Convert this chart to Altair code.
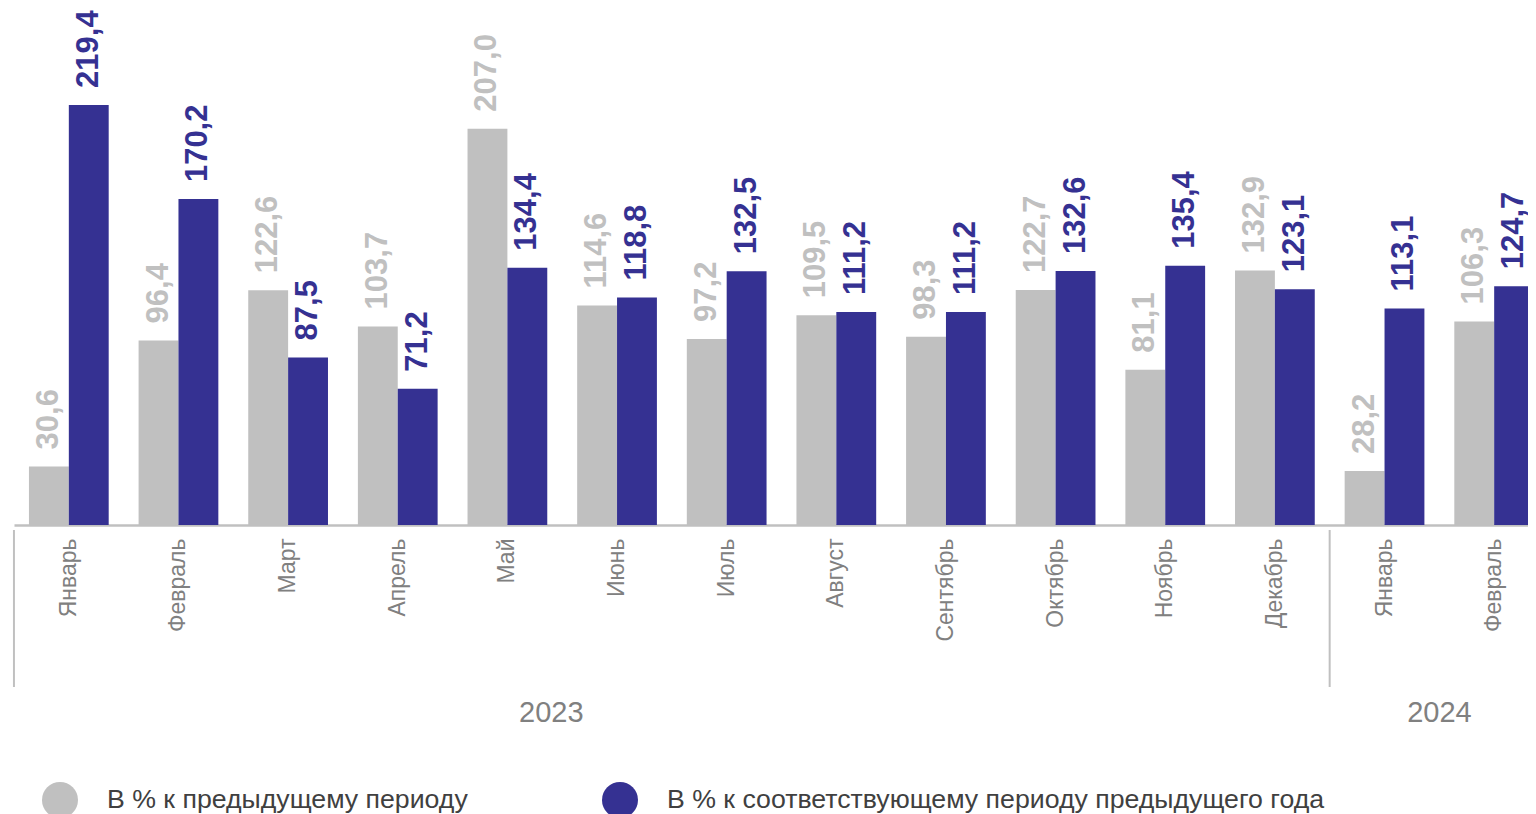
import altair as alt
import pandas as pd

months = ["Январь", "Февраль", "Март", "Апрель", "Май", "Июнь", "Июль", "Август",
          "Сентябрь", "Октябрь", "Ноябрь", "Декабрь", "Январь", "Февраль"]
years = [2023] * 12 + [2024] * 2
prev_period = [30.6, 96.4, 122.6, 103.7, 207.0, 114.6, 97.2, 109.5, 98.3, 122.7, 81.1, 132.9, 28.2, 106.3]
prev_year = [219.4, 170.2, 87.5, 71.2, 134.4, 118.8, 132.5, 111.2, 111.2, 132.6, 135.4, 123.1, 113.1, 124.7]
series_names = ["В % к предыдущему периоду", "В % к соответствующему периоду предыдущего года"]
series_colors = ["#c0c0c0", "#353192"]
year_labels = ["2023", "2024"]
year_anchor_months = ["Май|2023", "Январь|2024"]
year_dx = [4, 15]
separator_keys = ["Январь|2023", "Январь|2024"]

keys = [f"{m}|{y}" for m, y in zip(months, years)]
rows = []
for k, a, b in zip(keys, prev_period, prev_year):
    rows.append({"key": k, "series": series_names[0], "value": a, "label": f"{a:.1f}".replace(".", ",")})
    rows.append({"key": k, "series": series_names[1], "value": b, "label": f"{b:.1f}".replace(".", ",")})
df = pd.DataFrame(rows)

FONT = "Liberation Sans"
xscale = alt.Scale(range=[0, 1535], paddingInner=0.2727, paddingOuter=0.1364)
axis_spec = alt.Axis(title=None, labelExpr="split(datum.label, '|')[0]", labelAngle=-90,
                     labelFont=FONT, labelFontSize=23, labelColor="#808080", labelPadding=13,
                     ticks=False, domainColor="#c0c0c0", domainWidth=2.5, grid=False,
                     labelOverlap=False)


def xenc(**kw):
    return alt.X("key:N", sort=keys, scale=xscale, axis=axis_spec, **kw)


xoff = alt.XOffset("series:N", sort=series_names, scale=alt.Scale(paddingInner=0, paddingOuter=0))
y_enc = alt.Y("value:Q", scale=alt.Scale(domain=[0, 270]), axis=None)

bars = alt.Chart(df).mark_bar().encode(
    x=xenc(),
    xOffset=xoff,
    y=y_enc,
    color=alt.Color(
        "series:N", sort=series_names,
        scale=alt.Scale(domain=series_names, range=series_colors),
        legend=alt.Legend(title=None, orient="none", legendX=28, legendY=774, direction="horizontal",
                          symbolType="circle", symbolSize=1296, symbolStrokeWidth=0, symbolOpacity=1,
                          labelFont=FONT, labelFontSize=26.7, labelColor="#404040", labelOffset=29,
                          columnPadding=134, padding=0, labelLimit=1000),
    ),
)

text_layers = []
for name, col in zip(series_names, series_colors):
    text_layers.append(
        alt.Chart(df).transform_filter(alt.datum.series == name).mark_text(
            angle=270, align="left", baseline="middle", dx=17, font=FONT,
            fontWeight="bold", fontSize=31, color=col,
        ).encode(x=xenc(), xOffset=xoff, y=y_enc, text="label:N")
    )

sep_df = pd.DataFrame({"key": separator_keys})
separators = alt.Chart(sep_df).mark_rule(color="#c0c0c0", strokeWidth=2).encode(
    x=xenc(bandPosition=0),
    xOffset=alt.value(-15),
    y=alt.value(522),
    y2=alt.value(679),
)

year_layers = []
for yl, anchor, dx in zip(year_labels, year_anchor_months, year_dx):
    ydf = pd.DataFrame({"key": [anchor], "year": [yl]})
    year_layers.append(
        alt.Chart(ydf).mark_text(
            font=FONT, fontSize=29, color="#808080", baseline="middle", align="center", dx=dx,
        ).encode(x=xenc(bandPosition=1), y=alt.value(705), text="year:N")
    )

chart = alt.layer(bars, *text_layers, separators, *year_layers).properties(
    width=1514, height=517,
    padding={"left": 6, "top": 0, "right": 0, "bottom": 289},
    autosize=alt.AutoSizeParams(type="none"),
).configure(font=FONT).configure_view(stroke=None)

chart.save("out.html", embed_options={"renderer": "svg", "actions": False})
